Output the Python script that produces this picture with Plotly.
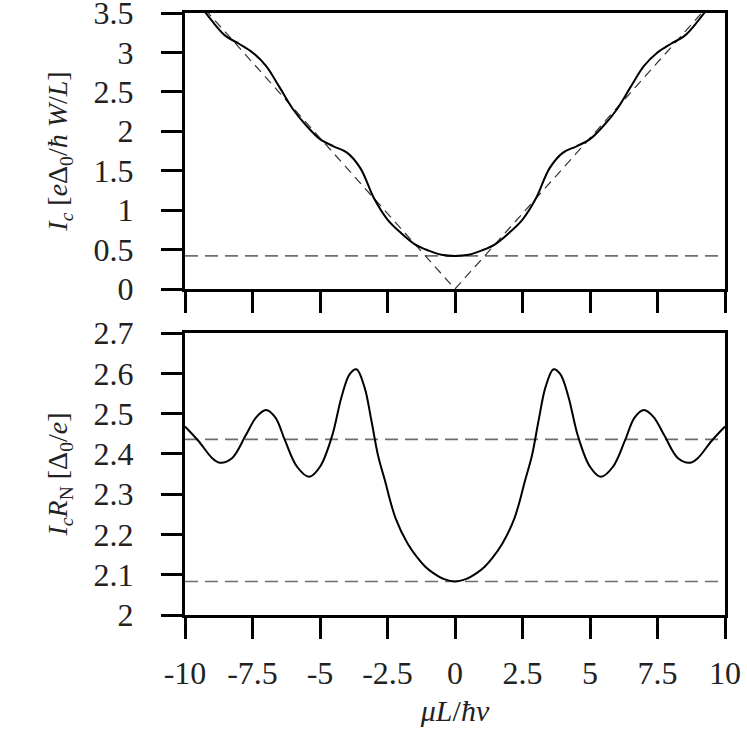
import plotly.graph_objects as go

# upper panel: critical current vs chemical potential
ic_x = [-10, -9.5, -9, -8.5, -8, -7.5, -7, -6.5, -6, -5.5, -5, -4.5, -4, -3.5,
        -3, -2.5, -2, -1.5, -1, -0.5, 0, 0.5, 1, 1.5, 2, 2.5, 3, 3.5, 4, 4.5,
        5, 5.5, 6, 6.5, 7, 7.5, 8, 8.5, 9, 9.5, 10]
ic_y = [3.9, 3.63, 3.4, 3.21, 3.11, 3.0, 2.83, 2.56, 2.28, 2.07, 1.9, 1.81, 1.73, 1.53,
        1.15, 0.88, 0.71, 0.57, 0.49, 0.435, 0.42, 0.435, 0.49, 0.57, 0.71, 0.88, 1.15, 1.53, 1.73, 1.81,
        1.9, 2.07, 2.28, 2.56, 2.83, 3.0, 3.11, 3.21, 3.4, 3.63, 3.9]
ic_lin_x = [-10, 0, 10]
ic_lin_y = [3.83, 0, 3.83]
ic_floor = 0.42

# lower panel: IcRN product
rn_x = [-10, -9.5, -9, -8.7, -8.25, -7.75, -7.35, -7, -6.65, -6.3, -5.85, -5.4, -5, -4.55,
        -4.2, -3.9, -3.65, -3.35, -3.1, -2.85, -2.6, -2.2, -1.75, -1.4, -1.1, -0.8, -0.4, 0,
        0.4, 0.8, 1.1, 1.4, 1.75, 2.2, 2.6, 2.85, 3.1, 3.35, 3.65, 3.9, 4.2, 4.55, 5, 5.4,
        5.85, 6.3, 6.65, 7, 7.35, 7.75, 8.25, 8.7, 9, 9.5, 10]
rn_y = [2.468, 2.432, 2.39, 2.378, 2.39, 2.446, 2.492, 2.509, 2.49, 2.434, 2.368, 2.343, 2.368, 2.445,
        2.542, 2.598, 2.61, 2.565, 2.484, 2.396, 2.335, 2.24, 2.177, 2.143, 2.12, 2.104, 2.089, 2.083,
        2.089, 2.104, 2.12, 2.143, 2.177, 2.24, 2.335, 2.396, 2.484, 2.565, 2.61, 2.598, 2.542, 2.445, 2.368, 2.343,
        2.368, 2.434, 2.49, 2.509, 2.492, 2.446, 2.39, 2.378, 2.39, 2.432, 2.468]
rn_high = 2.436
rn_low = 2.083

x_ticks = [-10, -7.5, -5, -2.5, 0, 2.5, 5, 7.5, 10]
x_labels = ["-10", "-7.5", "-5", "-2.5", "0", "2.5", "5", "7.5", "10"]

FONT = "Liberation Serif"

fig = go.Figure()

fig.add_trace(go.Scatter(x=[-10, 10], y=[ic_floor, ic_floor], mode="lines",
                         line=dict(color="#6e6e6e", width=1.6, dash="13px,7px"),
                         xaxis="x", yaxis="y"))
fig.add_trace(go.Scatter(x=ic_lin_x, y=ic_lin_y, mode="lines",
                         line=dict(color="#333333", width=1.2, dash="9px,6px"),
                         xaxis="x", yaxis="y"))
fig.add_trace(go.Scatter(x=ic_x, y=ic_y, mode="lines", line_shape="spline",
                         line=dict(color="black", width=2),
                         xaxis="x", yaxis="y"))

for lvl in [rn_high, rn_low]:
    fig.add_trace(go.Scatter(x=[-10, 10], y=[lvl, lvl], mode="lines",
                             line=dict(color="#6e6e6e", width=1.6, dash="13px,7px"),
                             xaxis="x2", yaxis="y2"))
fig.add_trace(go.Scatter(x=rn_x, y=rn_y, mode="lines", line_shape="spline",
                         line=dict(color="black", width=2),
                         xaxis="x2", yaxis="y2"))

axis_style = dict(showline=True, linecolor="black", linewidth=3, mirror=True,
                  ticks="outside", ticklen=21, tickwidth=3, tickcolor="black",
                  showgrid=False, zeroline=False, automargin=False,
                  ticklabeloverflow="allow",
                  tickfont=dict(family=FONT, size=32, color="#222"))

fig.update_layout(
    width=747, height=741,
    margin=dict(l=185, r=22, t=13, b=126),
    paper_bgcolor="white", plot_bgcolor="white",
    showlegend=False,
    font=dict(family=FONT, color="#222"),
    xaxis=dict(axis_style, domain=[0, 1], range=[-10, 10], anchor="y",
               tickvals=x_ticks, showticklabels=False),
    yaxis=dict(axis_style, domain=[0.5415, 1], range=[0, 3.5], anchor="x",
               tickvals=[0, 0.5, 1, 1.5, 2, 2.5, 3, 3.5], ticklabelstandoff=21,
               title=dict(text="<i>I<sub>c</sub></i> [<i>e</i>Δ<sub>0</sub>/<i>ħ</i> <i>W</i>/<i>L</i>]",
                          font=dict(family=FONT, size=28), standoff=18)),
    xaxis2=dict(axis_style, domain=[0, 1], range=[-10, 10], anchor="y2",
                tickvals=x_ticks, ticktext=x_labels, ticklabelstandoff=7,
                title=dict(text="<i>μL</i>/<i>ħv</i>", font=dict(family=FONT, size=30),
                           standoff=10)),
    yaxis2=dict(axis_style, domain=[0, 0.4684], range=[2, 2.7], anchor="x2",
                tickvals=[2, 2.1, 2.2, 2.3, 2.4, 2.5, 2.6, 2.7], ticklabelstandoff=21,
                title=dict(text="<i>I<sub>c</sub>R</i><sub>N</sub> [Δ<sub>0</sub>/<i>e</i>]",
                           font=dict(family=FONT, size=28), standoff=18)),
)

# the page body has a default margin; drop it so the figure sits at the corner
fig.write_html("out.html", config={"displayModeBar": False},
               post_script="document.body.style.margin='0px';")
